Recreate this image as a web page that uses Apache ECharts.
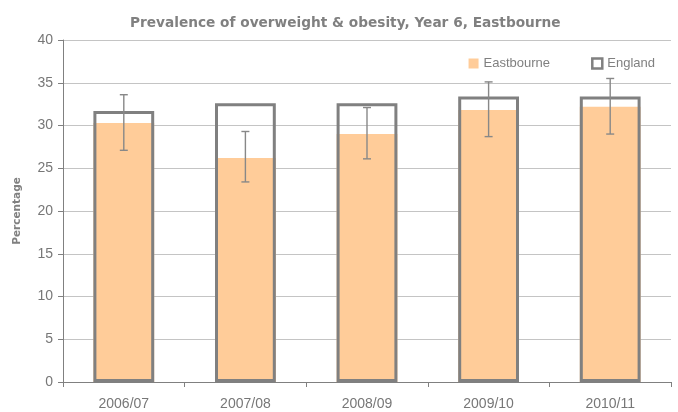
<!DOCTYPE html>
<html><head><meta charset="utf-8">
<script src="https://cdn.jsdelivr.net/npm/echarts@6/dist/echarts.min.js"></script>
<style>html,body{margin:0;padding:0;background:#fff}#c{width:678px;height:412px}</style>
</head><body><div id="c"></div>
<script>
var categories = ['2006/07','2007/08','2008/09','2009/10','2010/11'];
var eastbourne = [30.3, 26.2, 29.0, 31.8, 32.2];
var england = [31.7, 32.6, 32.6, 33.4, 33.4];
var ciLow = [27.1, 23.4, 26.1, 28.7, 29.0];
var ciHigh = [33.6, 29.3, 32.1, 35.1, 35.5];
var yTicks = [0,5,10,15,20,25,30,35,40];

var chart = echarts.init(document.getElementById('c'));
var gray = '#808080';
var boldFont = 'DejaVu Sans, Verdana, sans-serif';
var font = 'Liberation Sans, Arial, sans-serif';
chart.setOption({
  animation: false,
  title: {
    text: 'Prevalence of overweight & obesity, Year 6, Eastbourne',
    left: 125, top: 11,
    textStyle: {color: gray, fontSize: 13.7, fontWeight: 'bold', fontFamily: boldFont}
  },
  legend: {
    right: 18, top: 52, itemWidth: 10, itemHeight: 10, itemGap: 41,
    textStyle: {color: gray, fontSize: 13, fontFamily: font},
    data: [{name: 'Eastbourne', icon: 'rect'}, {name: 'England', icon: 'rect', itemStyle: {color: '#fff', borderColor: gray, borderWidth: 2.5}}]
  },
  grid: {left: 63, right: 7, top: 40, bottom: 30},
  xAxis: {
    type: 'category', data: categories,
    axisLine: {lineStyle: {color: gray}},
    axisTick: {show: true, length: 5, lineStyle: {color: gray}},
    axisLabel: {color: '#777', fontSize: 14, margin: 15, fontFamily: font}
  },
  yAxis: {
    type: 'value', min: yTicks[0], max: yTicks[yTicks.length-1], interval: 5,
    name: 'Percentage', nameLocation: 'middle', nameGap: 40,
    nameTextStyle: {color: gray, fontSize: 10.5, fontWeight: 'bold', fontFamily: boldFont},
    axisLine: {show: true, lineStyle: {color: gray}},
    axisTick: {show: true, length: 5, lineStyle: {color: gray}},
    axisLabel: {color: '#777', fontSize: 14, margin: 10, fontFamily: font},
    splitLine: {lineStyle: {color: '#c4c4c4'}}
  },
  series: [
    {name: 'Eastbourne', type: 'bar', data: eastbourne, barWidth: '50%', barGap: '-100%',
     itemStyle: {color: '#FFCC99'}, z: 2},
    {name: 'England', type: 'bar', data: england, barWidth: '50%', barGap: '-100%',
     itemStyle: {color: 'rgba(0,0,0,0)', borderColor: gray, borderWidth: 3}, z: 3},
    {name: 'CI', type: 'custom', z: 4,
     data: categories.map(function(c, i){ return [i, ciLow[i], ciHigh[i]]; }),
     renderItem: function(params, api) {
       var lo = api.coord([api.value(0), api.value(1)]);
       var hi = api.coord([api.value(0), api.value(2)]);
       var w = 4;
       var st = {stroke: '#888', lineWidth: 1.4};
       return {type: 'group', children: [
         {type: 'line', shape: {x1: hi[0], y1: hi[1], x2: lo[0], y2: lo[1]}, style: st},
         {type: 'line', shape: {x1: hi[0]-w, y1: hi[1], x2: hi[0]+w, y2: hi[1]}, style: st},
         {type: 'line', shape: {x1: lo[0]-w, y1: lo[1], x2: lo[0]+w, y2: lo[1]}, style: st}
       ]};
     }
    }
  ]
});
</script></body></html>
